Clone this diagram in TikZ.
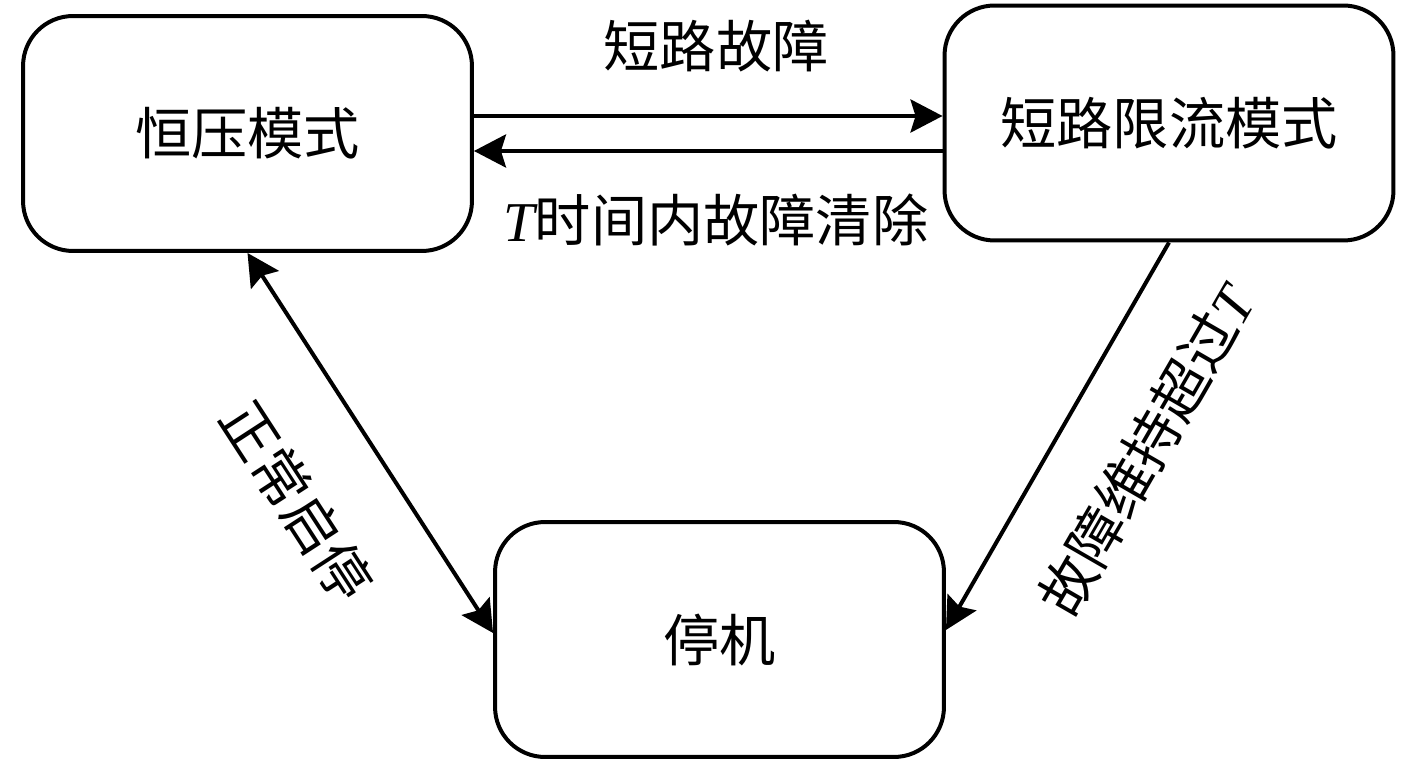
\documentclass[tikz,border=0pt]{standalone}
\usepackage{fontspec}
\setmainfont{Liberation Serif}
\newfontfamily\cjk{Noto Sans CJK SC}
\usetikzlibrary{arrows.meta}

\begin{document}
\begin{tikzpicture}[x=0.02cm, y=-0.02cm,
    >={Stealth[length=0.64cm, width=0.66cm, inset=0.1cm]},
    mode/.style={draw, line width=0.08cm, rounded corners=1cm, minimum width=8.98cm, minimum height=4.7cm, font=\cjk\fontsize{32}{38}\selectfont},
    lbl/.style={font=\cjk\fontsize{32}{38}\selectfont},
    arr/.style={line width=0.08cm}]
    \useasboundingbox (0,0) rectangle (1417,763);
    \node[mode] (hy) at (247.5,133.5) {恒压模式};
    \node[mode] (xl) at (1169,123) {短路限流模式};
    \node[mode] (tj) at (719.5,639.5) {停机};
    \draw[arr, ->] ([yshift=0.35cm]hy.east) -- ([yshift=0.35cm]hy.east -| xl.west);
    \draw[arr, ->] ([yshift=-0.35cm]hy.east -| xl.west) -- ([yshift=-0.35cm]hy.east);
    \draw[arr, <->] (hy.south) -- ([yshift=0.13cm]tj.west);
    \draw[arr, ->] (xl.south) -- ([yshift=0.19cm]tj.east);
    \node[lbl] (dl) at (716,46) {短路故障};
    \node[lbl] (qc) at (716,220) {{\normalfont\itshape T}时间内故障清除};
    \node[lbl, rotate=-57] (zc) at (297,501) {正常启停};
    \node[lbl, rotate=60] (gz) at (1146,450) {故障维持超过{\normalfont\itshape T}};
\end{tikzpicture}
\end{document}
